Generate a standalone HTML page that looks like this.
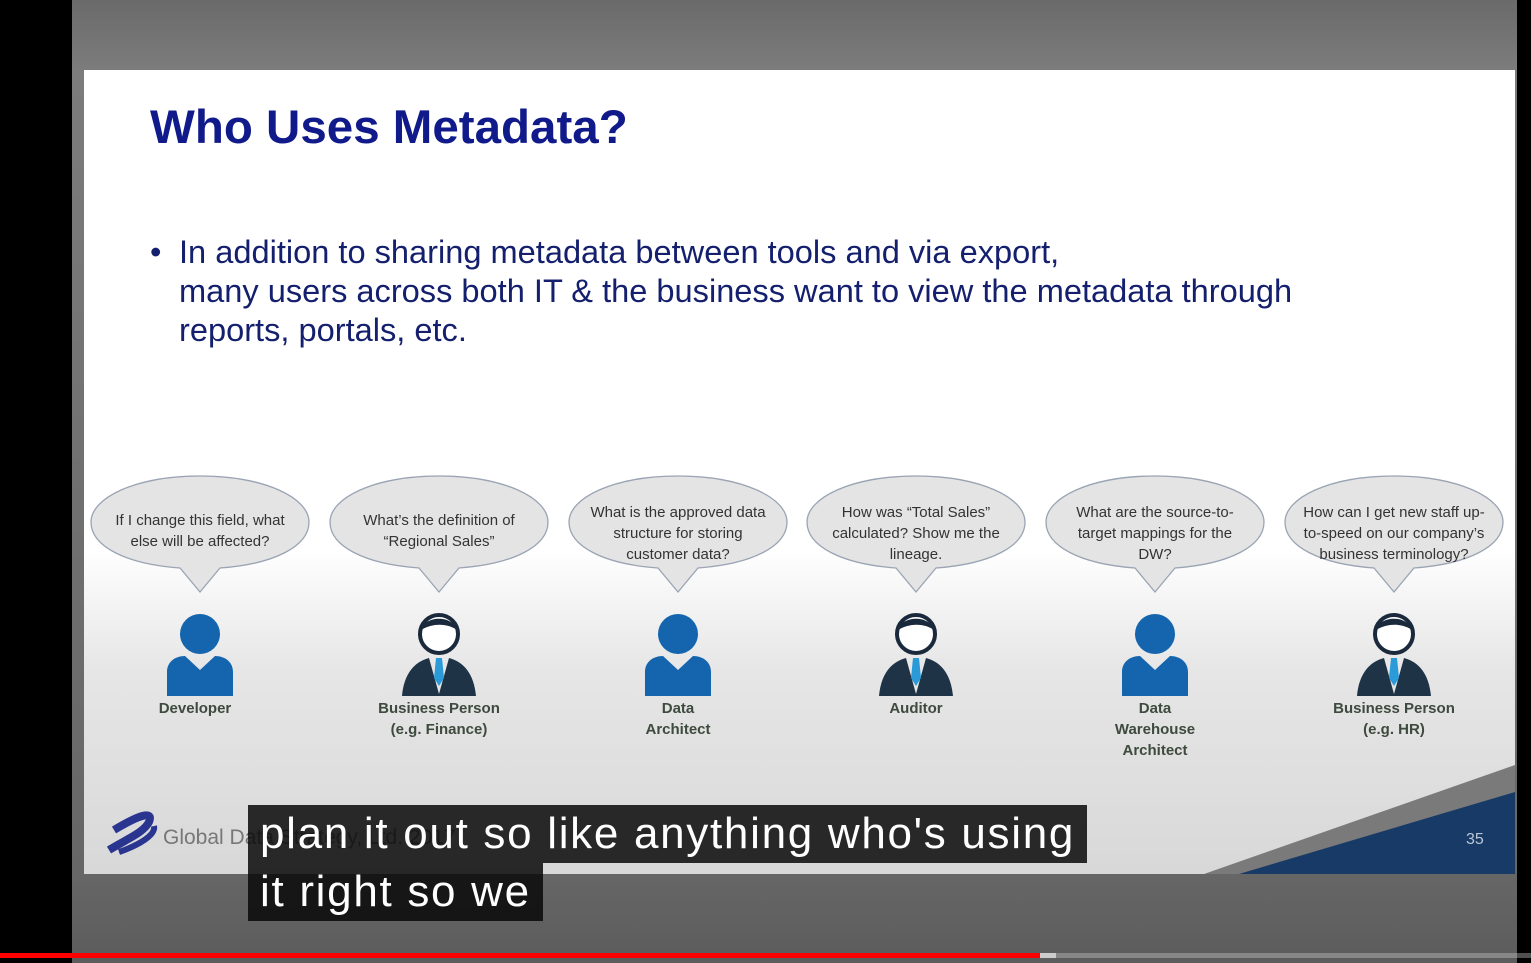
<!DOCTYPE html>
<html><head><meta charset="utf-8"><style>
body{margin:0;width:1531px;height:963px;background:#000;position:relative;overflow:hidden;font-family:"Liberation Sans",sans-serif}
.abs{position:absolute}
.bub{position:absolute;width:220px;height:96px;top:474px}
.bub svg{position:absolute;left:0;top:0;overflow:visible}
.bt{position:absolute;left:10px;width:200px;text-align:center;font-size:15px;color:#333;line-height:21px}
.lbl{position:absolute;width:200px;text-align:center;font-weight:bold;font-size:15px;color:#3d4a3d;line-height:21px;top:698px}
.cap{position:absolute;background:rgba(8,8,8,0.85);color:#fff;font-size:44px;letter-spacing:1.7px;line-height:58px;padding:0 12px;font-family:"Liberation Sans",sans-serif}
</style></head><body>
<div class="abs" style="left:72px;top:0;width:1445px;height:963px;background:linear-gradient(#6a6a6a,#7c7c7c 70px,#666 874px,#5c5c5c)"></div>
<div class="abs" style="left:84px;top:70px;width:1431px;height:804px;background:linear-gradient(#fff 0,#fff 480px,#e6e6e6 600px,#d8d8d8 804px)">
 <div class="abs" style="left:66px;top:30px;font-size:47.5px;font-weight:bold;color:#101a8a">Who Uses Metadata?</div>
 <div class="abs" style="left:66px;top:162px;font-size:32.6px;color:#14206e;line-height:39px;width:1300px">
 <span style="position:absolute;left:0">•</span><div style="margin-left:29px">In addition to sharing metadata between tools and via export,<br>many users across both IT &amp; the business want to view the metadata through<br>reports, portals, etc.</div></div>
 <svg class="abs" style="left:0;top:0" width="1431" height="804">
  <polygon points="1120,804 1431,695 1431,804" fill="#7a7a7a"/>
  <polygon points="1155,804 1431,722 1431,804" fill="#173a66"/>
  <text x="1382" y="774" font-size="16" fill="#bcc7d6" font-family="Liberation Sans">35</text>
  <path d="M30,760 C55,745 70,740 65,752 C60,762 45,768 25,780" stroke="#2a3590" stroke-width="8" fill="none"/>
  <path d="M35,782 C55,775 72,765 70,756" stroke="#2a3590" stroke-width="6" fill="none"/>
  <text x="79" y="774" font-size="21" fill="#777" font-family="Liberation Sans">Global Data Strategy, Ltd. 2017</text>
 </svg>
</div>
<div id="people"></div>
<div class="cap" style="left:248px;top:805px">plan it out so like anything who's using</div>
<div class="cap" style="left:248px;top:863px">it right so we</div>
<div class="abs" style="left:0;top:953px;width:1531px;height:5px;background:rgba(200,200,200,0.4)"></div>
<div class="abs" style="left:1040px;top:953px;width:16px;height:5px;background:#ccc"></div>
<div class="abs" style="left:0;top:953px;width:1040px;height:5px;background:#f00"></div>
<script>
const centers=[200,439,678,916,1155,1394];
const questions=["If I change this field, what<br>else will be affected?","What’s the definition of<br>“Regional Sales”","What is the approved data<br>structure for storing<br>customer data?","How was “Total Sales”<br>calculated? Show me the<br>lineage.","What are the source-to-<br>target mappings for the<br>DW?","How can I get new staff up-<br>to-speed on our company’s<br>business terminology?"];
const roles=["Developer","Business Person<br>(e.g. Finance)","Data<br>Architect","Auditor","Data<br>Warehouse<br>Architect","Business Person<br>(e.g. HR)"];
const suits=[false,true,false,true,false,true];
const root=document.getElementById('people');
centers.forEach((cx,i)=>{
 const b=document.createElement('div');b.className='bub';b.style.left=(cx-110)+'px';
 
 
 const lines=questions[i].split('<br>').length;
 b.innerHTML='<svg width="220" height="120"><path d="M110,2 C175,2 219,24 219,48 C219,72 185,90 130,94 L110,118 L90,94 C35,90 1,72 1,48 C1,24 45,2 110,2 Z" fill="#e4e4e4" stroke="#9aa4b4" stroke-width="1.3"/></svg><div class="bt" style="top:'+(lines==2?36:28)+'px">'+questions[i]+'</div>';
 root.appendChild(b);
 const ic=document.createElementNS('http://www.w3.org/2000/svg','svg');
 ic.setAttribute('width','90');ic.setAttribute('height','90');
 ic.style.position='absolute';ic.style.left=(cx-45)+'px';ic.style.top='612px';
 
 
 if(!suits[i]){
  ic.innerHTML='<circle cx="45" cy="22" r="20" fill="#1465ad"/><path d="M12,84 L12,60 C12,50 20,44 30,44 L45,58 L60,44 C70,44 78,50 78,60 L78,84 Z" fill="#1465ad"/>';
 }else{
  ic.innerHTML='<circle cx="45" cy="22" r="19" fill="#fff" stroke="#1a2a3c" stroke-width="4"/><path d="M27,18 C30,4 58,2 63,18 C55,12 40,10 27,18Z" fill="#1a2a3c"/><path d="M8,84 C10,62 20,50 35,46 L45,82 L55,46 C70,50 80,62 82,84 Z" fill="#1f3347"/><path d="M42,46 L48,46 L50,66 L45,74 L40,66 Z" fill="#2a9ad8"/>';
 }
 root.appendChild(ic);
 const l=document.createElement('div');l.className='lbl';l.style.left=(cx-100+(i==0?-5:0))+'px';
 
 
 l.innerHTML=roles[i];root.appendChild(l);
});
</script>
</body></html>
